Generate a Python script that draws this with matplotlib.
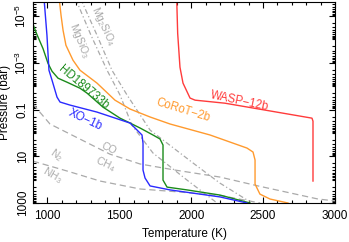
import numpy as np
import matplotlib.pyplot as plt
from matplotlib.ticker import FixedLocator, LogLocator, NullFormatter, MultipleLocator

plt.rcParams["font.family"] = ["Liberation Sans", "DejaVu Sans"]
plt.rcParams["mathtext.default"] = "regular"

# temperature-pressure profiles (T in K, log10 P in bar)
wasp_T = [1899, 1906, 1922, 1943, 1992, 2027, 2235, 2840, 2847, 2847]
wasp_logP = [-5.8, -4.26, -2.81, -2.13, -1.49, -1.40, -1.27, -0.63, -0.50, 2.06]

corot_T = [1081, 1095, 1109, 1129, 1178, 1227, 1345, 1470, 1575, 1714, 1853, 2131,
           2388, 2430, 2444, 2444, 2478, 2548, 2673]
corot_logP = [-5.8, -5.03, -4.39, -3.75, -3.11, -2.68, -2.13, -1.40, -1.02, -0.68,
              -0.38, 0.09, 0.65, 0.82, 1.16, 2.19, 2.62, 2.83, 3.0]

hd_T = [880, 921, 970, 1004, 1032, 1074, 1136, 1227, 1276, 1387, 1505, 1575, 1644,
        1734, 1783, 1804, 1804, 1832, 1971, 2200, 2409]
hd_logP = [-5.0, -4.3, -3.6, -2.98, -2.64, -2.34, -2.17, -1.91, -1.70, -1.10,
           -0.63, -0.42, -0.21, 0.09, 0.26, 0.52, 2.02, 2.32, 2.44, 2.66, 3.0]

xo_T = [976, 997, 1011, 1032, 1067, 1088, 1157, 1345, 1575, 1658, 1665, 1665, 1679,
        1714, 1853, 2200, 2388]
xo_logP = [-5.8, -4.18, -2.68, -2.26, -1.53, -1.32, -1.19, -0.89, -0.42, 0.09, 0.44,
           1.59, 1.93, 2.27, 2.44, 2.74, 3.0]

# condensation curves and chemical boundaries
mgsio3_T = [1192, 1303, 1415, 1505, 1588, 1734, 1971, 2180]
mgsio3_logP = [-5.8, -4.18, -2.68, -1.62, -0.33, 0.86, 2.02, 3.0]
mg2sio4_T = [1227, 1345, 1449, 1554, 1714, 2013, 2200, 2388]
mg2sio4_logP = [-5.8, -4.18, -2.68, -1.62, -0.12, 1.29, 2.15, 2.87]
co_T = [900, 1018, 1435, 1644, 1887, 2200, 2465, 2882, 3000]
co_logP = [-1.23, -0.38, 0.91, 1.33, 1.59, 1.89, 2.27, 2.83, 2.91]
n2_T = [900, 1136, 1366, 1644, 1922, 2221, 2479]
n2_logP = [1.21, 1.63, 2.06, 2.40, 2.53, 2.70, 3.0]

P = lambda lp: 10.0 ** np.array(lp)

fig = plt.figure(figsize=(3.49, 2.42), dpi=100)
ax = fig.add_axes([33 / 349, 1 - 203 / 242, 302 / 349, 201 / 242])

gray = "#aaaaaa"
ax.plot(co_T, P(co_logP), color=gray, lw=0.9, dashes=(5, 3))
ax.plot(n2_T, P(n2_logP), color=gray, lw=0.9, dashes=(5, 3))
ax.plot(mgsio3_T, P(mgsio3_logP), color=gray, lw=0.9, dashes=(4, 2, 1, 2))
ax.plot(mg2sio4_T, P(mg2sio4_logP), color=gray, lw=0.9, dashes=(4, 2, 1, 2))

ax.plot(wasp_T, P(wasp_logP), color="#ff3b3b", lw=1.0)
ax.plot(corot_T, P(corot_logP), color="#ff9a2e", lw=1.0)
ax.plot(hd_T, P(hd_logP), color="#1a8a1a", lw=1.0)
ax.plot(xo_T, P(xo_logP), color="#2a2aff", lw=1.0)

ax.set_yscale("log")
ax.set_xlim(900, 3000)
ax.set_ylim(1000, 10 ** -5.6)

ax.xaxis.set_major_locator(MultipleLocator(500))
ax.xaxis.set_minor_locator(MultipleLocator(100))
ax.yaxis.set_major_locator(FixedLocator([1e-5, 1e-3, 1e-1, 10, 1000]))
ax.yaxis.set_minor_locator(LogLocator(base=10, subs=np.arange(1, 10), numticks=20))
ax.yaxis.set_minor_formatter(NullFormatter())
ax.set_yticklabels(["$10^{-5}$", "$10^{-3}$", "0.1", "10", "1000"], rotation=90, va="center")
ax.tick_params(which="both", direction="in", top=True, right=True, labelsize=8.5, width=0.8)
ax.tick_params(which="major", length=4)
ax.tick_params(which="minor", length=2)
ax.tick_params(axis="x", pad=5)
ax.tick_params(axis="y", pad=3)
for s in ax.spines.values():
    s.set_linewidth(0.8)

ax.set_xlabel("Temperature (K)", fontsize=8.5, labelpad=4)
ax.set_ylabel("Pressure (bar)", fontsize=8.5, labelpad=2)

fs = 8.3
ax.text(2340, 10 ** -1.35, "WASP−12b", color="#ff3b3b", fontsize=fs, rotation=-12, ha="center", va="center")
ax.text(1940, 10 ** -0.95, "CoRoT−2b", color="#ff9a2e", fontsize=fs, rotation=-17, ha="center", va="center")
ax.text(1250, 10 ** -1.95, "HD189733b", color="#1a8a1a", fontsize=fs, rotation=-40, ha="center", va="center")
ax.text(1265, 10 ** -0.55, "XO−1b", color="#2a2aff", fontsize=fs, rotation=-25, ha="center", va="center")

gfs = 7.5
ax.text(1385, 10 ** -4.55, "Mg$_2$SiO$_4$", color=gray, fontsize=gfs, rotation=-65, ha="center", va="center")
ax.text(1225, 10 ** -3.95, "MgSiO$_3$", color=gray, fontsize=gfs, rotation=-68, ha="center", va="center")
ax.text(1430, 10 ** 0.68, "CO", color=gray, fontsize=gfs, rotation=-25, ha="center", va="center")
ax.text(1405, 10 ** 1.35, "CH$_4$", color=gray, fontsize=gfs, rotation=-25, ha="center", va="center")
ax.text(1065, 10 ** 0.95, "N$_2$", color=gray, fontsize=gfs, rotation=-35, ha="center", va="center")
ax.text(1035, 10 ** 1.8, "NH$_3$", color=gray, fontsize=gfs, rotation=-30, ha="center", va="center")

fig.savefig("out.png", dpi=100)
